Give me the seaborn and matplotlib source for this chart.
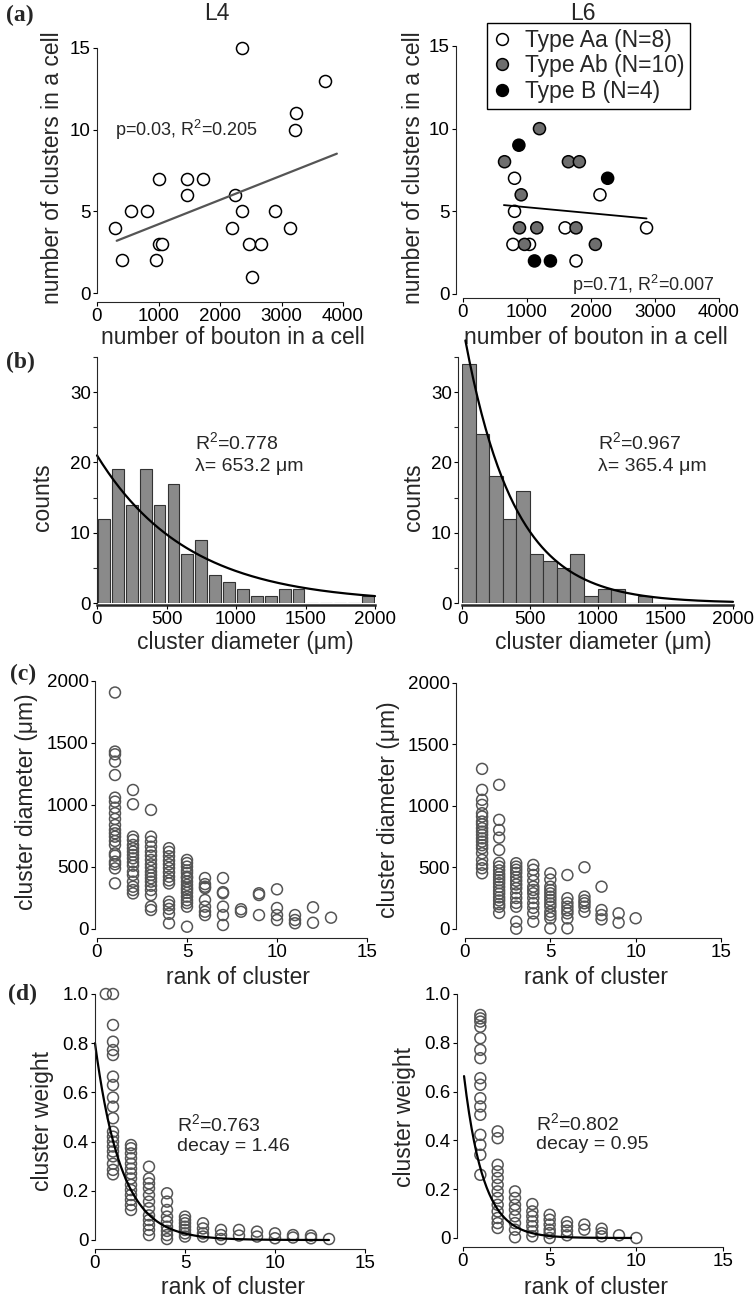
import numpy as np
import pandas as pd
import matplotlib
matplotlib.use("Agg")
import matplotlib.pyplot as plt
import seaborn as sns
from matplotlib.lines import Line2D

# ------------------------------
# Data
# ------------------------------
# (a) boutons vs clusters per cell
l4_boutons = [297, 405, 551, 811, 962, 1000, 1016, 1054, 1459, 1459, 1730, 2200,
              2243, 2362, 2362, 2470, 2524, 2659, 2892, 3146, 3216, 3243, 3703]
l4_clusters = [4, 2, 5, 5, 2, 7, 3, 3, 7, 6, 7, 4, 6, 15, 5, 3, 1, 3, 5, 4, 10, 11, 13]
l4_line = (2.72, 0.00149)          # intercept, slope
l4_line_x = [320, 3900]

l6_aa_boutons = [805, 805, 780, 1039, 1595, 1766, 2140, 2868]
l6_aa_clusters = [7, 5, 3, 3, 4, 2, 6, 4]
l6_ab_boutons = [649, 1195, 909, 883, 1153, 961, 1647, 1818, 1766, 2068]
l6_ab_clusters = [8, 10, 6, 4, 4, 3, 8, 8, 4, 3]
l6_b_boutons = [873, 2260, 1117, 1366]
l6_b_clusters = [9, 7, 2, 2]
l6_line = (5.61, -0.000363)
l6_line_x = [639, 2868]
type_labels = ["Type Aa (N=8)", "Type Ab (N=10)", "Type B (N=4)"]
type_colors = ["white", "#6e6e6e", "black"]

# (b) histograms of cluster diameter (100 um bins)
hist_edges = [0, 100, 200, 300, 400, 500, 600, 700, 800, 900, 1000,
              1100, 1200, 1300, 1400, 1500, 1600, 1700, 1800, 1900, 2000]
l4_hist_counts = [12, 19, 14, 19, 14, 17, 7, 9, 4, 3, 2, 1, 1, 2, 2, 0, 0, 0, 0, 1]
l6_hist_counts = [34, 24, 18, 12, 16, 7, 6, 5, 7, 1, 2, 2, 0, 1, 0, 0, 0, 0, 0, 0]
l4_hist_fit = (21.0, 653.2)   # amplitude, lambda
l6_hist_fit = (40.0, 365.4)

# (c) cluster diameter by rank (list index + 1 = rank)
l4_diameter = [
    [1907, 1430, 1408, 1349, 1241, 1058, 1026, 977, 932, 886, 837, 797, 770, 743,
     708, 676, 608, 590, 541, 520, 487, 366],
    [1120, 1005, 743, 716, 676, 649, 622, 595, 568, 536, 509, 460, 434, 380, 339, 312, 285],
    [959, 743, 703, 662, 622, 590, 555, 520, 493, 460, 434, 407, 380, 347, 312, 272, 178, 151],
    [650, 620, 585, 550, 520, 490, 455, 420, 390, 365, 218, 190, 160, 120, 44],
    [555, 530, 501, 470, 449, 420, 409, 380, 354, 330, 313, 290, 259, 230, 207, 178, 16],
    [409, 360, 339, 328, 232, 178, 137, 110],
    [409, 295, 286, 178, 110, 30],
    [157, 137],
    [286, 272, 110],
    [318, 167, 110, 70],
    [110, 70, 44],
    [173, 48],
    [89],
]
l6_diameter = [
    [1301, 1130, 1049, 1008, 940, 913, 872, 850, 818, 790, 764, 735, 709, 680, 655,
     614, 560, 520, 492, 451],
    [1171, 886, 804, 741, 641, 536, 505, 475, 445, 420, 395, 370, 340, 310, 285, 255,
     230, 200, 178, 128],
    [533, 505, 480, 454, 420, 390, 360, 330, 288, 250, 210, 179, 57, 0],
    [519, 480, 437, 390, 342, 315, 288, 250, 207, 170, 125, 57],
    [451, 400, 342, 315, 288, 260, 234, 205, 179, 138, 111, 84, 3],
    [437, 248, 210, 179, 150, 125, 84, 3],
    [500, 261, 230, 207, 179, 138],
    [342, 152, 111, 76],
    [125, 49],
    [85],
]

# (d) cluster weight by rank
l4_weight = [
    [1.0, 0.874, 0.806, 0.772, 0.752, 0.664, 0.630, 0.579, 0.542, 0.495, 0.44, 0.42,
     0.40, 0.38, 0.36, 0.34, 0.31, 0.285, 0.267],
    [0.386, 0.373, 0.352, 0.332, 0.31, 0.29, 0.27, 0.25, 0.224, 0.203, 0.183, 0.163,
     0.142, 0.122],
    [0.298, 0.25, 0.23, 0.21, 0.183, 0.156, 0.129, 0.10, 0.081, 0.061, 0.041, 0.02],
    [0.19, 0.156, 0.122, 0.095, 0.075, 0.054, 0.037, 0.02, 0.004],
    [0.095, 0.081, 0.068, 0.054, 0.041, 0.027, 0.014],
    [0.068, 0.047, 0.027, 0.014],
    [0.041, 0.02, 0.004],
    [0.041, 0.018],
    [0.034, 0.014],
    [0.027, 0.007],
    [0.02, 0.01],
    [0.018, 0.007],
    [0.004],
]
l4_weight_extra_rank = [0.6]   # lone circle left of rank 1
l4_weight_extra = [1.0]
l6_weight = [
    [0.914, 0.90, 0.887, 0.866, 0.819, 0.771, 0.737, 0.655, 0.628, 0.573, 0.539,
     0.505, 0.423, 0.382, 0.341, 0.259],
    [0.437, 0.409, 0.30, 0.273, 0.246, 0.218, 0.191, 0.164, 0.136, 0.109, 0.082,
     0.061, 0.041],
    [0.191, 0.164, 0.136, 0.116, 0.089, 0.061, 0.034, 0.003],
    [0.139, 0.109, 0.089, 0.068, 0.048, 0.027, 0.007],
    [0.095, 0.075, 0.055, 0.034, 0.02, 0.0],
    [0.065, 0.048, 0.03, 0.011],
    [0.055, 0.034],
    [0.038, 0.02, 0.007],
    [0.011],
    [0.0],
]
l4_weight_fit = (0.80, 1.46)
l6_weight_fit = (0.70, 1.12)

# ------------------------------
# Style
# ------------------------------
sns.set_style("ticks")
plt.rcParams['font.family'] = ['Liberation Sans', 'DejaVu Sans']
plt.rcParams['mathtext.fontset'] = 'custom'
plt.rcParams['mathtext.rm'] = 'Liberation Sans'
plt.rcParams['mathtext.default'] = 'regular'
plt.rcParams['axes.linewidth'] = 0.8

W, H = 756, 1299
LABEL_FS = 16.5
TICK_FS = 13.5
NOTE_FS = 14
fig = plt.figure(figsize=(W / 100, H / 100), dpi=100)


def add_axes(x0, x1, ytop, ybot):
    ax = fig.add_axes([x0 / W, 1 - ybot / H, (x1 - x0) / W, (ybot - ytop) / H])
    ax.geom = (x0, x1, ytop, ybot)
    return ax


def style_axis(ax, xlim, ylim, xticks, yticks, left_off, bottom_off):
    ax.set_xlim(xlim)
    ax.set_ylim(ylim)
    ax.set_xticks(xticks)
    ax.set_yticks(yticks)
    sns.despine(ax=ax)
    ax.spines['left'].set_position(('outward', left_off * 0.72))
    ax.spines['bottom'].set_position(('outward', bottom_off * 0.72))
    ax.tick_params(direction='out', length=3, width=0.8, labelsize=TICK_FS, pad=1.5,
                   colors='black')


def place_labels(ax, xlabel, xpos, ylabel, ypos):
    x0, x1, ytop, ybot = ax.geom
    ax.set_xlabel(xlabel, fontsize=LABEL_FS)
    ax.xaxis.label.set_va('center')
    ax.xaxis.set_label_coords((xpos[0] - x0) / (x1 - x0), (ybot - xpos[1]) / (ybot - ytop))
    ax.set_ylabel(ylabel, fontsize=LABEL_FS)
    ax.yaxis.label.set_va('center')
    ax.yaxis.set_label_coords((ypos[0] - x0) / (x1 - x0), (ybot - ypos[1]) / (ybot - ytop))


def unclip(ax):
    for c in ax.collections:
        c.set_clip_on(False)
    for l in ax.lines:
        l.set_clip_on(False)


def rank_frame(values):
    rows = [(i + 1, v) for i, vals in enumerate(values) for v in vals]
    return pd.DataFrame(rows, columns=['rank', 'value'])


# ------------------------------
# (a) scatter: boutons vs clusters
# ------------------------------
ax = add_axes(97, 343, 48, 293)
sns.scatterplot(x=l4_boutons, y=l4_clusters, ax=ax, s=75, facecolor='white',
                edgecolor='black', linewidth=1.1)
xs = np.array(l4_line_x)
ax.plot(xs, l4_line[0] + l4_line[1] * xs, color='#555555', lw=1.6)
style_axis(ax, (0, 4000), (0, 15), [0, 1000, 2000, 3000, 4000], [0, 5, 10, 15], 0, 9)
ax.text(300, 10, "p=0.03, R$^2$=0.205", fontsize=13, va='center')
place_labels(ax, "number of bouton in a cell", (233, 338),
             "number of clusters in a cell", (53, 168))
unclip(ax)

ax = add_axes(463, 719, 46, 294)
l6_df = pd.DataFrame({
    'boutons': l6_aa_boutons + l6_ab_boutons + l6_b_boutons,
    'clusters': l6_aa_clusters + l6_ab_clusters + l6_b_clusters,
    'type': [type_labels[0]] * len(l6_aa_boutons) + [type_labels[1]] * len(l6_ab_boutons)
            + [type_labels[2]] * len(l6_b_boutons),
})
sns.scatterplot(data=l6_df, x='boutons', y='clusters', hue='type', ax=ax, s=75,
                palette=dict(zip(type_labels, type_colors)), edgecolor='black',
                linewidth=1.1, legend=False)
xs = np.array(l6_line_x)
ax.plot(xs, l6_line[0] + l6_line[1] * xs, color='black', lw=1.3)
style_axis(ax, (0, 4000), (0, 15), [0, 1000, 2000, 3000, 4000], [0, 5, 10, 15], 7, 4)
ax.text(1710, 0.55, "p=0.71, R$^2$=0.007", fontsize=13, va='center')
place_labels(ax, "number of bouton in a cell", (596, 338),
             "number of clusters in a cell", (413, 168))
handles = [Line2D([], [], marker='o', linestyle='', markersize=8.5, markerfacecolor=c,
                  markeredgecolor='black', markeredgewidth=1.1) for c in type_colors]
leg = ax.legend(handles, type_labels, loc='upper left', bbox_to_anchor=(487 / W, 1 - 23 / H),
                bbox_transform=fig.transFigure, frameon=True, fancybox=False,
                edgecolor='black', framealpha=1, fontsize=LABEL_FS, handlelength=0.8,
                handletextpad=0.6, borderpad=0.25, labelspacing=0.12, borderaxespad=0)
leg.get_frame().set_linewidth(1.0)
unclip(ax)

# ------------------------------
# (b) histograms of cluster diameter
# ------------------------------
centers = [(a + b) / 2 for a, b in zip(hist_edges[:-1], hist_edges[1:])]
for geom, counts, fit, shrink, left_off, xlab_x, ylab_x, note_x in [
        ((97, 375, 357, 603), l4_hist_counts, l4_hist_fit, 0.85, 0, 245, 42, 707),
        ((462, 733, 357, 603), l6_hist_counts, l6_hist_fit, 1.0, 4, 603, 413, 1001)]:
    ax = add_axes(*geom)
    sns.histplot(x=centers, weights=counts, bins=hist_edges, ax=ax, color='#8a8a8a',
                 edgecolor='#333333', linewidth=0.8, alpha=1, shrink=shrink)
    x0 = 0 if shrink < 1 else 25
    xs = np.linspace(x0, 2000, 200)
    ax.plot(xs, fit[0] * np.exp(-xs / fit[1]), color='black', lw=1.6)
    style_axis(ax, (0, 2000), (0, 35), [0, 500, 1000, 1500, 2000], [0, 10, 20, 30],
               left_off, 2)
    ax.set_yticks([5, 15, 25, 35], minor=True)
    ax.tick_params(which='minor', direction='out', length=3, width=0.8)
    ax.spines['bottom'].set_linewidth(1.8)
    ax.text(note_x, 22.9, "R$^2$=%s" % ("0.778" if shrink < 1 else "0.967"),
            fontsize=NOTE_FS, va='center')
    ax.text(note_x, 19.4, "λ= %.1f μm" % fit[1], fontsize=NOTE_FS, va='center')
    place_labels(ax, "cluster diameter (μm)", (xlab_x, 643), "counts", (ylab_x, 497))
    unclip(ax)

# ------------------------------
# (c) cluster diameter vs rank
# ------------------------------
for geom, values, left_off, xlab_x, ylab in [
        ((97, 367, 681, 928.7), l4_diameter, 2, 238, (27, 802)),
        ((465, 721, 683, 928.7), l6_diameter, 9, 596, (389, 810))]:
    ax = add_axes(*geom)
    df = rank_frame(values)
    sns.scatterplot(data=df, x='rank', y='value', ax=ax, s=62, facecolor='none',
                    edgecolor='#555555', linewidth=1.1)
    style_axis(ax, (0, 15), (0, 2000), [0, 5, 10, 15], [0, 500, 1000, 1500, 2000],
               left_off, 9)
    place_labels(ax, "rank of cluster", (xlab_x, 977), "cluster diameter (μm)", ylab)
    unclip(ax)

# ------------------------------
# (d) cluster weight vs rank
# ------------------------------
for geom, values, fit, x_rng, left_off, xlab_x, ylab, note in [
        ((95, 365, 994, 1240), l4_weight, l4_weight_fit, (0, 13), 0, 233, (43, 1121),
         (4.54, "0.763", "1.46")),
        ((463, 723, 994, 1238), l6_weight, l6_weight_fit, (0.06, 9.7), 6, 596, (404, 1117),
         (4.24, "0.802", "0.95"))]:
    ax = add_axes(*geom)
    df = rank_frame(values)
    if values is l4_weight:
        df = pd.concat([df, pd.DataFrame({'rank': l4_weight_extra_rank,
                                          'value': l4_weight_extra})])
    sns.scatterplot(data=df, x='rank', y='value', ax=ax, s=62, facecolor='none',
                    edgecolor='#555555', linewidth=1.1)
    xs = np.linspace(x_rng[0], x_rng[1], 200)
    ax.plot(xs, fit[0] * np.exp(-xs / fit[1]), color='black', lw=1.6)
    style_axis(ax, (0, 15), (0, 1.0), [0, 5, 10, 15], [0, 0.2, 0.4, 0.6, 0.8, 1.0],
               left_off, 9)
    ax.set_yticklabels(["0", "0.2", "0.4", "0.6", "0.8", "1.0"])
    ax.text(note[0], 0.472, "R$^2$=" + note[1], fontsize=NOTE_FS, va='center')
    ax.text(note[0], 0.382, "decay = " + note[2], fontsize=NOTE_FS, va='center')
    place_labels(ax, "rank of cluster", (xlab_x, 1288), "cluster weight", ylab)
    unclip(ax)

# ------------------------------
# Titles and panel letters
# ------------------------------
fig.text(217 / W, 1 - 14 / H, "L4", fontsize=LABEL_FS, ha='center', va='center')
fig.text(583 / W, 1 - 14 / H, "L6", fontsize=LABEL_FS, ha='center', va='center')
for letter, (px, py) in zip("abcd", [(6, 15), (6, 362), (10, 674), (8, 994)]):
    fig.text(px / W, 1 - py / H, "(%s)" % letter, fontsize=17, fontweight='bold',
             family='Liberation Serif', ha='left', va='center')

fig.savefig("out.png", dpi=100)
plt.close(fig)
